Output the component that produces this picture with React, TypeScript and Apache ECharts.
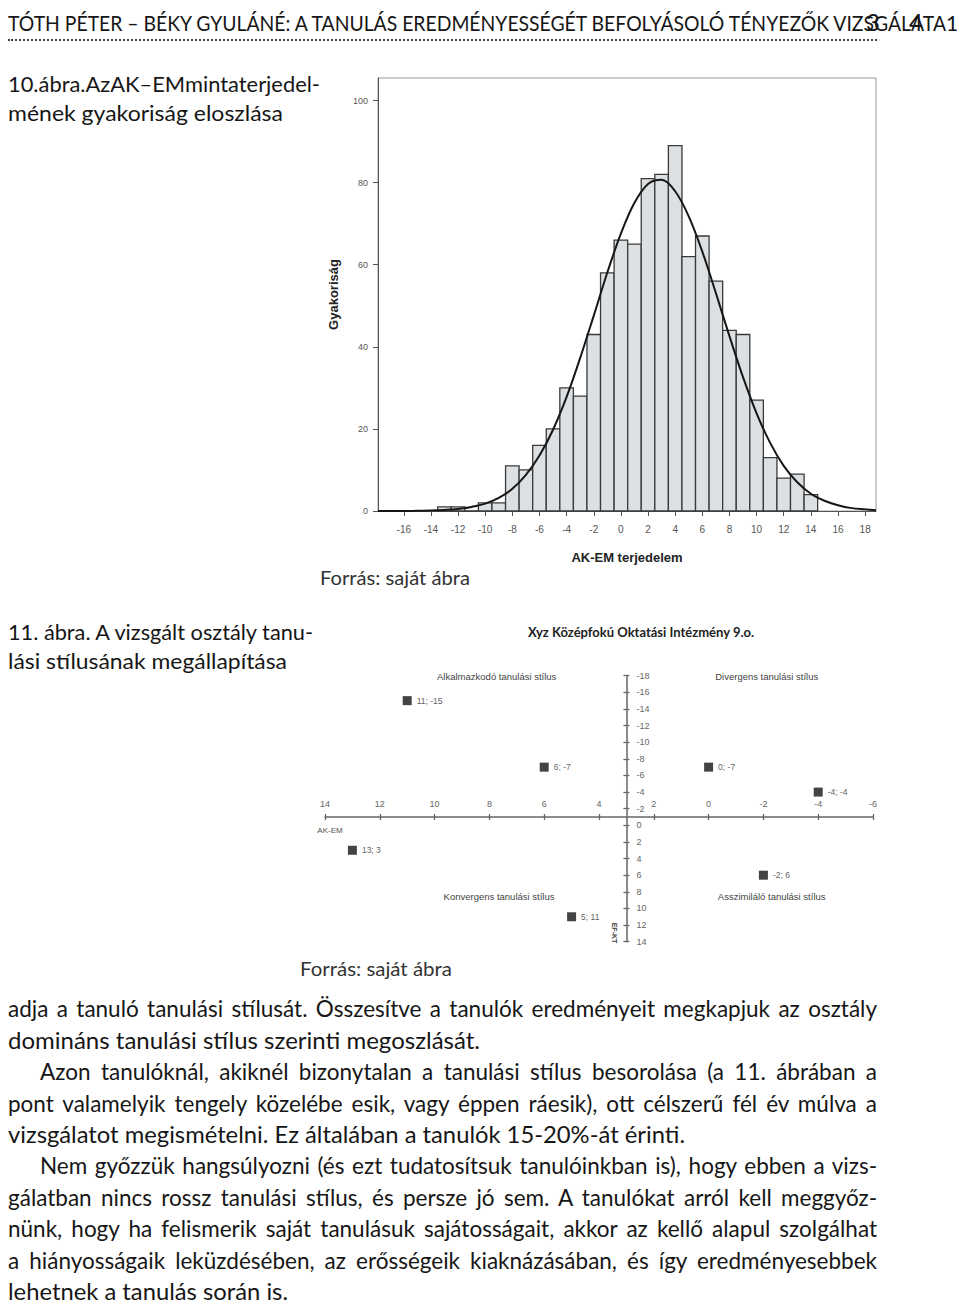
import React, { useEffect, useLayoutEffect, useRef } from "react";
import * as echarts from "echarts";

// ---------- Figure 10 data (histogram of AK-EM range) ----------
const binCenters = [-13, -12, -11, -10, -9, -8, -7, -6, -5, -4, -3, -2, -1, 0, 1, 2, 3, 4, 5, 6, 7, 8, 9, 10, 11, 12, 13, 14];
const binCounts = [1, 1, 0, 2, 2, 11, 10, 16, 20, 30, 28, 43, 58, 66, 65, 81, 82, 89, 62, 67, 56, 44, 43, 27, 13, 8, 9, 4];
// normal curve
const curveX = [-17.9, -17, -16, -15, -14, -13, -12, -11, -10, -9, -8, -7, -6, -5, -4, -3, -2, -1, 0, 1, 2, 3, 4, 5, 6, 7, 8, 9, 10, 11, 12, 13, 14, 15, 16, 17, 18, 18.8];
const curveY = [0, 0, 0, 0.05, 0.1, 0.25, 0.5, 1, 1.8, 3.2, 5.4, 8.8, 13.5, 19.8, 27.8, 37.3, 47.6, 58.1, 67.6, 75.1, 79.7, 80.7, 77.9, 71.8, 63.2, 53.1, 42.6, 32.6, 23.8, 16.6, 11, 7, 4.2, 2.5, 1.4, 0.7, 0.4, 0.2];
const histXTicks = [-16, -14, -12, -10, -8, -6, -4, -2, 0, 2, 4, 6, 8, 10, 12, 14, 16, 18];
const histYTicks = [0, 20, 40, 60, 80, 100];

// ---------- Figure 11 data (learning style quadrant) ----------
const akEm = [11, 6, 13, 5, 0, -4, -2];
const efKt = [-15, -7, 3, 11, -7, -4, 6];
const quadrantLabels = ["Alkalmazkodó tanulási stílus", "Divergens tanulási stílus", "Konvergens tanulási stílus", "Asszimiláló tanulási stílus"];

const TXT = 'Lato, "Noto Sans", sans-serif';
const ARIAL = '"Liberation Sans", Arial, sans-serif';
const DY = 2.5;

type LineSpec = { text: string; x: number; cy: number; w: number; size: number; justify?: boolean; color?: string; weight?: number };

function FitLine({ spec }: { spec: LineSpec }) {
  const ref = useRef<HTMLSpanElement>(null);
  useLayoutEffect(() => {
    const el = ref.current;
    if (!el) return;
    el.style.wordSpacing = "0px";
    el.style.transform = "none";
    const nat = el.getBoundingClientRect().width;
    if (!nat) return;
    const spaces = (spec.text.match(/ /g) || []).length;
    if (spec.justify && spaces > 0 && nat <= spec.w) {
      el.style.wordSpacing = (spec.w - nat) / spaces + "px";
    } else {
      el.style.transform = `scaleX(${spec.w / nat})`;
    }
  }, [spec]);
  return (
    <span
      ref={ref}
      style={{
        position: "absolute",
        left: spec.x,
        top: spec.cy + DY - 0.634 * spec.size,
        fontFamily: TXT,
        fontSize: spec.size,
        lineHeight: 1,
        whiteSpace: "pre",
        color: spec.color || "#161616",
        fontWeight: spec.weight || 400,
        transformOrigin: "0 0",
      }}
    >
      {spec.text}
    </span>
  );
}

const bodyTexts = [
  "adja a tanuló tanulási stílusát. Összesítve a tanulók eredményeit megkapjuk az osztály",
  "domináns tanulási stílus szerinti megoszlását.",
  "Azon tanulóknál, akiknél bizonytalan a tanulási stílus besorolása (a 11. ábrában a",
  "pont valamelyik tengely közelébe esik, vagy éppen ráesik), ott célszerű fél év múlva a",
  "vizsgálatot megismételni. Ez általában a tanulók 15-20%-át érinti.",
  "Nem győzzük hangsúlyozni (és ezt tudatosítsuk tanulóinkban is), hogy ebben a vizs-",
  "gálatban nincs rossz tanulási stílus, és persze jó sem. A tanulókat arról kell meggyőz-",
  "nünk, hogy ha felismerik saját tanulásuk sajátosságait, akkor az kellő alapul szolgálhat",
  "a hiányosságaik leküzdésében, az erősségeik kiaknázásában, és így eredményesebbek",
  "lehetnek a tanulás során is.",
];
const bodyIndent = [0, 0, 32, 0, 0, 32, 0, 0, 0, 0];
const bodyRight = [877, 480, 877, 877, 685, 877, 877, 877, 877, 288];
const bodyJustify = [true, false, true, true, false, true, true, true, true, false];

function EChart({ option, style }: { option: any; style: React.CSSProperties }) {
  const ref = useRef<HTMLDivElement>(null);
  useEffect(() => {
    const chart = echarts.init(ref.current!, null, { renderer: "svg" });
    chart.setOption(option);
    return () => chart.dispose();
  }, [option]);
  return <div ref={ref} style={style} />;
}

const histOption = {
  animation: false,
  grid: { left: 78, top: 18, width: 498, height: 433, show: true, borderColor: "#9a9a9a", borderWidth: 1 },
  xAxis: {
    type: "value",
    min: -17.9,
    max: 18.8,
    name: "AK-EM terjedelem",
    nameLocation: "middle",
    nameGap: 40,
    nameTextStyle: { fontFamily: ARIAL, fontWeight: "bold", fontSize: 13, color: "#222" },
    axisLine: { show: true, onZero: false, lineStyle: { color: "#555", width: 1 } },
    axisTick: { show: true, length: 5, customValues: histXTicks, lineStyle: { color: "#555" } },
    axisLabel: { customValues: histXTicks, fontFamily: ARIAL, fontSize: 10, color: "#555", margin: 13 },
    splitLine: { show: false },
  },
  yAxis: {
    type: "value",
    min: 0,
    max: 105.5,
    name: "Gyakoriság",
    nameLocation: "middle",
    nameGap: 38,
    nameTextStyle: { fontFamily: ARIAL, fontWeight: "bold", fontSize: 13, color: "#222" },
    axisLine: { show: true, onZero: false, lineStyle: { color: "#555", width: 1 } },
    axisTick: { show: true, length: 5, customValues: histYTicks, lineStyle: { color: "#555" } },
    axisLabel: { customValues: histYTicks, fontFamily: ARIAL, fontSize: 9, color: "#555", margin: 10 },
    splitLine: { show: false },
  },
  series: [
    {
      type: "custom",
      data: binCenters.map((c, i) => [c, binCounts[i]]),
      encode: { x: 0, y: 1 },
      renderItem: (params: any, api: any) => {
        const x = api.value(0);
        const y = api.value(1);
        const p0 = api.coord([x - 0.5, y]);
        const p1 = api.coord([x + 0.5, 0]);
        return {
          type: "rect",
          shape: { x: p0[0], y: p0[1], width: p1[0] - p0[0], height: p1[1] - p0[1] },
          style: { fill: "#dde0e3", stroke: "#3a3a3a", lineWidth: 1.3 },
        };
      },
      z: 2,
    },
    {
      type: "line",
      data: curveX.map((x, i) => [x, curveY[i]]),
      smooth: 0.35,
      showSymbol: false,
      lineStyle: { color: "#161616", width: 2 },
      z: 3,
    },
  ],
};

const G2 = { left: 25, top: 55.7, width: 548, height: 266 };
const axisCommonX = { type: "value", inverse: true, min: -6, max: 14, interval: 2, position: "bottom", offset: -124.7, splitLine: { show: false } };
const axisCommonY = { type: "value", inverse: true, min: -18, max: 14, interval: 2, position: "left", offset: -301.4, splitLine: { show: false } };
const tickStyle = { color: "#666", width: 1.3 };
const smallLabel = { fontFamily: ARIAL, fontSize: 9, color: "#666" };
const quadFont = `9.5px ${ARIAL}`;

const quadOption = {
  animation: false,
  grid: { ...G2, show: false },
  xAxis: [
    { ...axisCommonX, axisLine: { onZero: false, lineStyle: { color: "#666", width: 1.5 } }, axisTick: { inside: true, length: 3, lineStyle: tickStyle }, axisLabel: { ...smallLabel, inside: true, margin: 9 } },
    { ...axisCommonX, axisLine: { show: false, onZero: false }, axisTick: { inside: false, length: 3, lineStyle: tickStyle }, axisLabel: { show: false } },
  ],
  yAxis: [
    { ...axisCommonY, axisLine: { onZero: false, lineStyle: { color: "#666", width: 1.5 } }, axisTick: { inside: true, length: 3, lineStyle: tickStyle }, axisLabel: { ...smallLabel, inside: true, margin: 10 } },
    { ...axisCommonY, axisLine: { show: false, onZero: false }, axisTick: { inside: false, length: 3, lineStyle: tickStyle }, axisLabel: { show: false } },
  ],
  series: [
    {
      type: "scatter",
      xAxisIndex: 0,
      yAxisIndex: 0,
      data: akEm.map((v, i) => [v, efKt[i]]),
      symbol: "rect",
      symbolSize: 9,
      itemStyle: { color: "#141414" },
      label: {
        show: true,
        position: "right",
        distance: 5,
        formatter: (p: any) => `${p.value[0]}; ${p.value[1]}`,
        fontFamily: ARIAL,
        fontSize: 8.5,
        color: "#333",
      },
    },
  ],
  graphic: [
    { type: "text", x: 341, y: 12, style: { text: "Xyz Középfokú Oktatási Intézmény 9.o.", font: `bold 13px ${TXT}`, fill: "#222", align: "center", verticalAlign: "middle" } },
    { type: "text", x: 196.7, y: 56, style: { text: quadrantLabels[0], font: quadFont, fill: "#444", align: "center", verticalAlign: "middle" } },
    { type: "text", x: 466.7, y: 56, style: { text: quadrantLabels[1], font: quadFont, fill: "#444", align: "center", verticalAlign: "middle" } },
    { type: "text", x: 199, y: 276, style: { text: quadrantLabels[2], font: quadFont, fill: "#444", align: "center", verticalAlign: "middle" } },
    { type: "text", x: 471.7, y: 276, style: { text: quadrantLabels[3], font: quadFont, fill: "#444", align: "center", verticalAlign: "middle" } },
    { type: "text", x: 30, y: 210, style: { text: "AK-EM", font: `8px ${ARIAL}`, fill: "#555", align: "center", verticalAlign: "middle" } },
    { type: "text", x: 314, y: 313, rotation: -Math.PI / 2, style: { text: "EF-KT", font: `bold 7px ${ARIAL}`, fill: "#444", align: "center", verticalAlign: "middle" } },
  ],
};

const topLines: LineSpec[] = [
  { text: "TÓTH PÉTER – BÉKY GYULÁNÉ: A TANULÁS EREDMÉNYESSÉGÉT BEFOLYÁSOLÓ TÉNYEZŐK VIZSGÁLATA", x: 8, cy: 23, w: 938, size: 21, justify: true },
  { text: "10.ábra.AzAK–EMmintaterjedel-", x: 8, cy: 84, w: 312, size: 22 },
  { text: "mének gyakoriság eloszlása", x: 8, cy: 113, w: 275, size: 22 },
  { text: "Forrás: saját ábra", x: 320, cy: 578, w: 150, size: 19, color: "#333" },
  { text: "11. ábra. A vizsgált osztály tanu-", x: 8, cy: 632, w: 305, size: 22 },
  { text: "lási stílusának megállapítása", x: 8, cy: 661, w: 279, size: 22 },
  { text: "Forrás: saját ábra", x: 300, cy: 969, w: 152, size: 19, color: "#333" },
];

const pageDigit = (ch: string, left: number, size: number) => (
  <span style={{ position: "absolute", left, top: 23 + DY - 0.634 * size, fontFamily: TXT, fontSize: size, lineHeight: 1, color: "#161616" }}>{ch}</span>
);

export default function App() {
  const bodyLines: LineSpec[] = bodyTexts.map((t, i) => ({
    text: t,
    x: 8 + bodyIndent[i],
    cy: 1010 + i * 31.45,
    w: bodyRight[i] - 8 - bodyIndent[i],
    size: 22.5,
    justify: bodyJustify[i],
  }));
  return (
    <div style={{ position: "absolute", left: 0, top: 0, width: 960, height: 1305, background: "#fff", overflow: "hidden" }}>
      {topLines.map((s, i) => (
        <FitLine key={"t" + i} spec={s} />
      ))}
      {pageDigit("3", 866, 24)}
      {pageDigit("4", 909, 24)}
      {pageDigit("1", 946, 21)}
      <div style={{ position: "absolute", left: 8, top: 39, width: 869, height: 0, borderTop: "2px dotted #444" }} />
      {bodyLines.map((s, i) => (
        <FitLine key={"b" + i} spec={s} />
      ))}
      <EChart option={histOption} style={{ position: "absolute", left: 300, top: 60, width: 620, height: 520 }} />
      <EChart option={quadOption} style={{ position: "absolute", left: 300, top: 620, width: 640, height: 340 }} />
    </div>
  );
}
